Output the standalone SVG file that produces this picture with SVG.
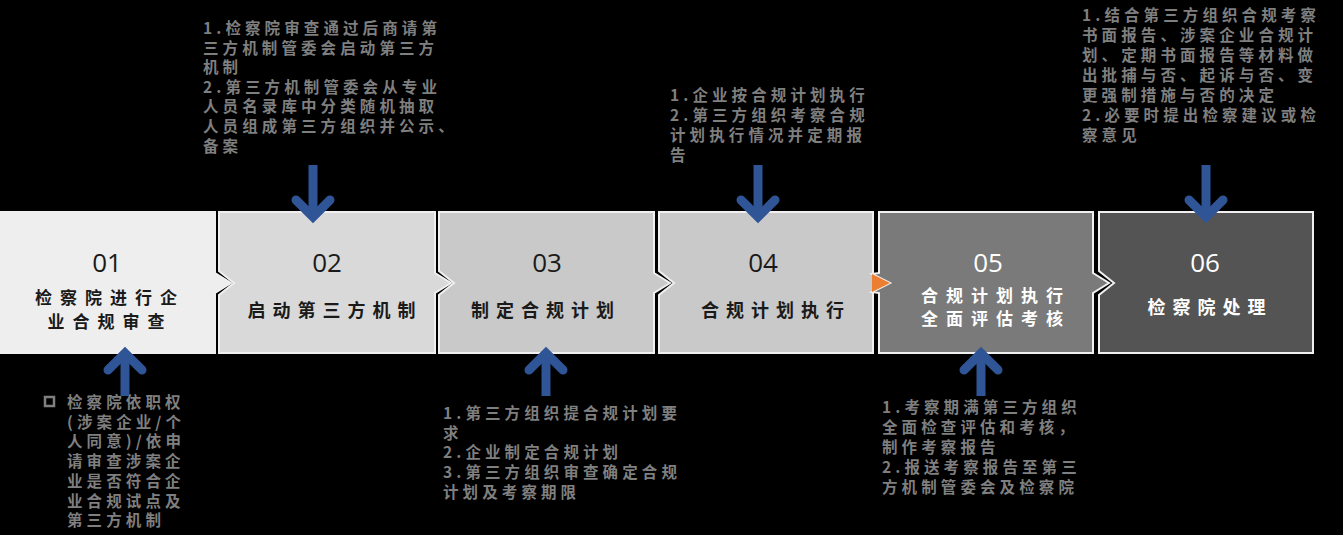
<svg xmlns="http://www.w3.org/2000/svg" width="1343" height="535" viewBox="0 0 1343 535">
<style>
.bg{fill:#000}
.box{stroke:#f0f0f0;stroke-width:2}
.num{font-family:"Open Sans","Noto Sans",sans-serif;font-size:26px;text-anchor:middle;fill:#1a1a1a}
.lbl{font-family:"Noto Sans CJK SC","Noto Sans",sans-serif;font-weight:700;font-size:18px;letter-spacing:7px;text-anchor:middle;fill:#1a1a1a}
.two{font-size:17px;letter-spacing:8px;line-height:1}
.w{fill:#ffffff}
.note{font-family:"Noto Sans CJK SC","Noto Sans",sans-serif;font-weight:700;font-size:15.5px;letter-spacing:4.1px;fill:#7f7f7f}
.shaft{fill:none;stroke:#2f5597;stroke-width:9}
.head{fill:none;stroke:#2f5597;stroke-width:9;stroke-linecap:round;stroke-linejoin:miter}
</style>
<rect class="bg" x="0" y="0" width="1343" height="535"/>

<g id="node-01">
<path class="box" fill="#eeeeee" d="M-2,212 H215 V273 L231,283 L215,293 V353 H-2 Z"/>
<text class="num" x="107" y="272">01</text>
<text class="lbl two" x="110" y="304">检察院进行企</text>
<text class="lbl two" x="110" y="328">业合规审查</text>
</g>

<g id="node-02">
<path class="box" fill="#d9d9d9" d="M219,212 H435 V273 L451,283 L435,293 V353 H219 V295 L234,283 L219,271 Z"/>
<text class="num" x="327" y="272">02</text>
<text class="lbl" x="335" y="317">启动第三方机制</text>
</g>

<g id="node-03">
<path class="box" fill="#c9c9c9" d="M439,212 H654 V273 L670,283 L654,293 V353 H439 V295 L454,283 L439,271 Z"/>
<text class="num" x="547" y="272">03</text>
<text class="lbl" x="546" y="317">制定合规计划</text>
</g>

<g id="node-04">
<path class="box" fill="#c9c9c9" d="M659,212 H873 V353 H659 V295 L674,283 L659,271 Z"/>
<path fill="#ed7d31" d="M872,274 L890,283 L872,292 Z"/>
<text class="num" x="763" y="272">04</text>
<text class="lbl" x="776" y="317">合规计划执行</text>
</g>

<g id="node-05">
<path class="box" fill="#7a7a7a" d="M879,212 H1093 V273 L1109,283 L1093,293 V353 H879 V293 L872,292 L890,283 L872,274 L879,273 Z"/>
<path fill="#ed7d31" d="M872,274 L890,283 L872,292 Z"/>
<text class="num w" x="988" y="272">05</text>
<text class="lbl two w" x="996" y="302">合规计划执行</text>
<text class="lbl two w" x="996" y="325">全面评估考核</text>
</g>

<g id="node-06">
<path class="box" fill="#545454" d="M1099,212 H1313 V353 H1099 V295 L1114,283 L1099,271 Z"/>
<text class="num w" x="1205" y="272">06</text>
<text class="lbl w" x="1210" y="314">检察院处理</text>
</g>

<g id="connectors">
<path class="shaft" d="M313,165 V214"/><path class="head" d="M296,200 L313,217 L330,200"/>
<path class="shaft" d="M758,165 V214"/><path class="head" d="M741,200 L758,217 L775,200"/>
<path class="shaft" d="M1206,165 V214"/><path class="head" d="M1189,200 L1206,217 L1223,200"/>
<path class="shaft" d="M125,396 V356"/><path class="head" d="M108,370 L125,353 L142,370"/>
<path class="shaft" d="M546,396 V356"/><path class="head" d="M529,370 L546,353 L563,370"/>
<path class="shaft" d="M981,396 V356"/><path class="head" d="M964,370 L981,353 L998,370"/>
</g>

<g id="note-02">
<text class="note" x="203" y="34">
<tspan x="203">1.检察院审查通过后商请第</tspan>
<tspan x="203" dy="19.6">三方机制管委会启动第三方</tspan>
<tspan x="203" dy="19.6">机制</tspan>
<tspan x="203" dy="19.6">2.第三方机制管委会从专业</tspan>
<tspan x="203" dy="19.6">人员名录库中分类随机抽取</tspan>
<tspan x="203" dy="19.6">人员组成第三方组织并公示、</tspan>
<tspan x="203" dy="19.6">备案</tspan>
</text>
</g>

<g id="note-04">
<text class="note" x="670" y="101">
<tspan x="670">1.企业按合规计划执行</tspan>
<tspan x="670" dy="20">2.第三方组织考察合规</tspan>
<tspan x="670" dy="20">计划执行情况并定期报</tspan>
<tspan x="670" dy="20">告</tspan>
</text>
</g>

<g id="note-06">
<text class="note" x="1082" y="21">
<tspan x="1082">1.结合第三方组织合规考察</tspan>
<tspan x="1082" dy="20">书面报告、涉案企业合规计</tspan>
<tspan x="1082" dy="20">划、定期书面报告等材料做</tspan>
<tspan x="1082" dy="20">出批捕与否、起诉与否、变</tspan>
<tspan x="1082" dy="20">更强制措施与否的决定</tspan>
<tspan x="1082" dy="20">2.必要时提出检察建议或检</tspan>
<tspan x="1082" dy="20">察意见</tspan>
</text>
</g>

<g id="note-01">
<rect x="45" y="397" width="9" height="9" fill="none" stroke="#7f7f7f" stroke-width="2.5"/>
<text class="note" x="67" y="408">
<tspan x="67">检察院依职权</tspan>
<tspan x="67" dy="19.7">(涉案企业/个</tspan>
<tspan x="67" dy="19.7">人同意)/依申</tspan>
<tspan x="67" dy="19.7">请审查涉案企</tspan>
<tspan x="67" dy="19.7">业是否符合企</tspan>
<tspan x="67" dy="19.7">业合规试点及</tspan>
<tspan x="67" dy="19.7">第三方机制</tspan>
</text>
</g>

<g id="note-03">
<text class="note" x="443" y="419">
<tspan x="443">1.第三方组织提合规计划要</tspan>
<tspan x="443" dy="19.7">求</tspan>
<tspan x="443" dy="19.7">2.企业制定合规计划</tspan>
<tspan x="443" dy="19.7">3.第三方组织审查确定合规</tspan>
<tspan x="443" dy="19.7">计划及考察期限</tspan>
</text>
</g>

<g id="note-05">
<text class="note" x="882" y="413">
<tspan x="882">1.考察期满第三方组织</tspan>
<tspan x="882" dy="20">全面检查评估和考核，</tspan>
<tspan x="882" dy="20">制作考察报告</tspan>
<tspan x="882" dy="20">2.报送考察报告至第三</tspan>
<tspan x="882" dy="20">方机制管委会及检察院</tspan>
</text>
</g>
</svg>
